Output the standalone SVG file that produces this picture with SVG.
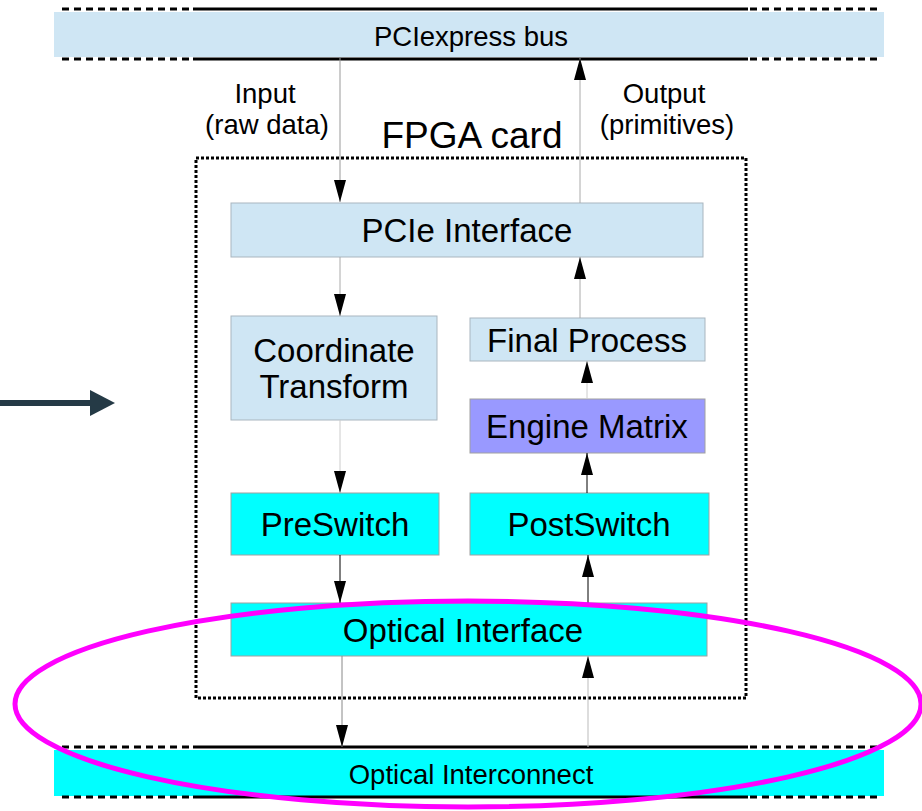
<svg xmlns="http://www.w3.org/2000/svg" width="922" height="811" viewBox="0 0 922 811">
<defs>
<marker id="a" viewBox="0 0 22 12" refX="22" refY="6" markerWidth="22" markerHeight="12" markerUnits="userSpaceOnUse" orient="auto">
<path d="M0,0 L22,6 L0,12 Z" fill="#000"/>
</marker>
</defs>
<style>
text{font-family:"Liberation Sans",Arial,sans-serif;fill:#000;text-anchor:middle;dominant-baseline:central}
.lb{fill:#cfe6f4;stroke:#a9b6bf;stroke-width:1}
.cy{fill:#00ffff;stroke:#a0a0a0;stroke-width:1}
.pu{fill:#9999ff;stroke:#a0a0a0;stroke-width:1}
.t26{font-size:33px}
.t22{font-size:27.5px}
.bus{stroke:#000;stroke-width:3;fill:none}
.dash{stroke:#000;stroke-width:3;stroke-dasharray:7,5;fill:none}
.c{fill:none;stroke-width:1}
</style>
<g id="pcie-bus">
<rect x="54" y="12" width="830" height="45" fill="#cfe6f4"/>
<line class="dash" x1="62" y1="9" x2="192" y2="9"/>
<line class="bus" x1="193" y1="9" x2="748" y2="9"/>
<line class="dash" x1="750" y1="9" x2="882" y2="9"/>
<line class="dash" x1="62" y1="59" x2="192" y2="59"/>
<line class="bus" x1="193" y1="59" x2="748" y2="59"/>
<line class="dash" x1="750" y1="59" x2="882" y2="59"/>
<text class="t22" x="471" y="36">PCIexpress bus</text>
</g>
<g id="optical-interconnect">
<rect x="54" y="750" width="830" height="46" fill="#00ffff"/>
<line class="dash" x1="62" y1="747" x2="192" y2="747"/>
<line class="bus" x1="193" y1="747" x2="748" y2="747"/>
<line class="dash" x1="750" y1="747" x2="882" y2="747"/>
<line class="dash" x1="62" y1="797" x2="192" y2="797"/>
<line class="bus" x1="193" y1="797" x2="748" y2="797"/>
<line class="dash" x1="750" y1="797" x2="882" y2="797"/>
<text class="t22" x="471" y="774">Optical Interconnect</text>
</g>
<g id="labels">
<text class="t22" x="265" y="93">Input</text>
<text class="t22" x="267" y="124">(raw data)</text>
<text class="t22" x="664" y="93">Output</text>
<text class="t22" x="667" y="124">(primitives)</text>
</g>
<g id="fpga-card">
<rect x="196" y="158" width="550" height="540" fill="none" stroke="#000" stroke-width="3" stroke-dasharray="3,2"/>
<text x="472" y="135" style="font-size:37px">FPGA card</text>
</g>
<g id="pcie-interface">
<rect class="lb" x="231" y="203" width="472" height="54"/>
<text class="t26" x="467" y="230">PCIe Interface</text>
</g>
<g id="coordinate-transform">
<rect class="lb" x="231" y="316" width="206" height="104"/>
<text class="t26" x="334" y="350">Coordinate</text>
<text class="t26" x="334" y="386">Transform</text>
</g>
<g id="final-process">
<rect class="lb" x="470" y="318" width="235" height="43"/>
<text class="t26" x="587" y="340">Final Process</text>
</g>
<g id="engine-matrix">
<rect class="pu" x="470" y="399" width="235" height="54"/>
<text class="t26" x="587" y="426">Engine Matrix</text>
</g>
<g id="preswitch">
<rect class="cy" x="231" y="493" width="208" height="62"/>
<text class="t26" x="335" y="524">PreSwitch</text>
</g>
<g id="postswitch">
<rect class="cy" x="470" y="493" width="239" height="62"/>
<text class="t26" x="589" y="524">PostSwitch</text>
</g>
<g id="optical-interface">
<rect class="cy" x="231" y="603" width="476" height="53"/>
<text class="t26" x="463" y="630">Optical Interface</text>
</g>
<g id="connectors">
<line class="c" stroke="#999" x1="340" y1="58" x2="340" y2="202" marker-end="url(#a)"/>
<line class="c" stroke="#aaa" x1="580" y1="203" x2="580" y2="58" marker-end="url(#a)"/>
<line class="c" stroke="#aaa" x1="340" y1="257" x2="340" y2="316" marker-end="url(#a)"/>
<line class="c" stroke="#aaa" x1="580" y1="318" x2="580" y2="257" marker-end="url(#a)"/>
<line class="c" stroke="#ccc" x1="340" y1="420" x2="340" y2="493" marker-end="url(#a)"/>
<line class="c" stroke="#ccc" x1="587" y1="399" x2="587" y2="361" marker-end="url(#a)"/>
<line class="c" stroke="#000" x1="587" y1="493" x2="587" y2="453" marker-end="url(#a)"/>
<line class="c" stroke="#000" x1="340" y1="555" x2="340" y2="603" marker-end="url(#a)"/>
<line class="c" stroke="#000" x1="588" y1="603" x2="588" y2="555" marker-end="url(#a)"/>
<line class="c" stroke="#888" x1="342" y1="656" x2="342" y2="747" marker-end="url(#a)"/>
<line class="c" stroke="#bbb" x1="588" y1="747" x2="588" y2="656" marker-end="url(#a)"/>
</g>
<g id="highlight">
<ellipse cx="468" cy="704" rx="453" ry="103" fill="none" stroke="#ff00ff" stroke-width="5"/>
</g>
<g id="pointer">
<line x1="0" y1="403" x2="92" y2="403" stroke="#253a46" stroke-width="6"/>
<path d="M90,390 L115,403 L90,416 Z" fill="#253a46"/>
</g>
</svg>
